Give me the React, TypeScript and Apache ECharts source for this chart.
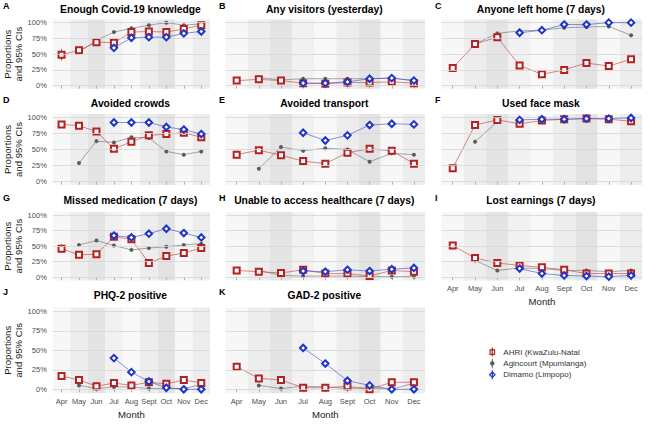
import React, { useEffect, useRef } from "react";
import * as echarts from "echarts";

// ---------- data ----------
const months = ["Apr", "May", "Jun", "Jul", "Aug", "Sept", "Oct", "Nov", "Dec"];
const yTicks = [0, 25, 50, 75, 100];
const seriesNames = ["AHRI (KwaZulu-Natal", "Agincourt (Mpumlanga)", "Dimamo (Limpopo)"];

// A Enough Covid-19 knowledge
const ahriA = [49, 56, 69, 68, 85, 86, 85, 90, 96];
const agincourtA = [null, 53, 72, 85, 91, 96, 100, 96, 98];
const dimamoA = [null, null, null, 60, 76, 77, 77, 83, 86];
const ciA = [9, 3, 3, 3, 3, 3, 3, 3, 2];
// B Any visitors (yesterday)
const ahriB = [8, 10, 8, 4, 3, 5, 5, 6, 4];
const agincourtB = [null, 13, 9, 11, 11, 11, 11, 12, 8];
const dimamoB = [null, null, null, 4, 4, 6, 11, 12, 8];
const ciB = [3, 2, 2, 2, 1, 2, 2, 2, 2];
// C Anyone left home (7 days)
const ahriC = [28, 66, 77, 32, 18, 25, 36, 31, 42];
const agincourtC = [null, 66, 83, 87, 88, 92, 93, 94, 80];
const dimamoC = [null, null, null, 84, 88, 97, 97, 100, 100];
const ciC = [6, 3, 3, 3, 3, 3, 3, 3, 5];
// D Avoided crowds
const ahriD = [89, 87, 78, 51, 62, 72, 74, 76, 69];
const agincourtD = [null, 29, 63, 61, 69, 68, 47, 42, 47];
const dimamoD = [null, null, null, 92, 92, 92, 85, 81, 74];
const ciD = [3, 2, 2, 3, 3, 3, 3, 3, 3];
// E Avoided transport
const ahriE = [42, 49, 41, 32, 28, 45, 51, 48, 28];
const agincourtE = [null, 20, 54, 48, 52, 50, 31, 44, 42];
const dimamoE = [null, null, null, 76, 64, 72, 88, 90, 89];
const ciE = [6, 3, 3, 3, 3, 3, 3, 3, 4];
// F Used face mask
const ahriF = [21, 88, 96, 90, 95, 97, 98, 97, 94];
const agincourtF = [null, 62, 93, null, null, null, null, null, null];
const dimamoF = [null, null, null, 96, 97, 97, 98, 98, 99];
const ciF = [6, 3, 2, 2, 2, 2, 1, 1, 2];
// G Missed medication (7 days)
const ahriG = [46, 36, 37, 65, 61, 23, 34, 39, 47];
const agincourtG = [null, 52, 59, 51, 44, 47, 49, 52, 54];
const dimamoG = [null, null, null, 67, 64, 70, 78, 71, 64];
const ciG = [7, 3, 3, 3, 3, 3, 3, 3, 4];
// H Unable to access healthcare (7 days)
const ahriH = [11, 9, 7, 12, 6, 6, 2, 11, 9];
const agincourtH = [null, 11, 3, 2, 2, 2, 1, 1, 1];
const dimamoH = [null, null, null, 10, 9, 12, 10, 13, 15];
const ciH = [3, 2, 2, 2, 2, 2, 1, 2, 2];
// I Lost earnings (7 days)
const ahriI = [51, 31, 23, 19, 16, 12, 6, 6, 6];
const agincourtI = [null, 27, 11, 15, 14, 11, 11, 9, 11];
const dimamoI = [null, null, null, 14, 6, 3, 2, 1, 3];
const ciI = [6, 3, 3, 3, 2, 2, 2, 2, 2];
// J PHQ-2 positive
const ahriJ = [17, 12, 4, 8, 5, 9, 7, 12, 8];
const agincourtJ = [null, 5, 1, 3, 3, 1, 1, 1, 6];
const dimamoJ = [null, null, null, 40, 22, 10, 2, 0, 0];
const ciJ = [5, 2, 2, 2, 2, 2, 2, 2, 2];
// K GAD-2 positive
const ahriK = [29, 14, 12, 2, 2, 4, 0, 9, 9];
const agincourtK = [null, 5, 1, 4, 3, 1, 2, 0, 8];
const dimamoK = [null, null, null, 53, 33, 11, 5, 0, 0];
const ciK = [5, 2, 2, 1, 1, 2, 1, 2, 2];

type Panel = {
  letter: string; title: string; row: number; col: number;
  ahri: (number | null)[]; agincourt: (number | null)[]; dimamo: (number | null)[]; ci: number[];
  xLabels: boolean;
};

const panels: Panel[] = [
  { letter: "A", title: "Enough Covid-19 knowledge", row: 0, col: 0, ahri: ahriA, agincourt: agincourtA, dimamo: dimamoA, ci: ciA, xLabels: false },
  { letter: "B", title: "Any visitors (yesterday)", row: 0, col: 1, ahri: ahriB, agincourt: agincourtB, dimamo: dimamoB, ci: ciB, xLabels: false },
  { letter: "C", title: "Anyone left home (7 days)", row: 0, col: 2, ahri: ahriC, agincourt: agincourtC, dimamo: dimamoC, ci: ciC, xLabels: false },
  { letter: "D", title: "Avoided crowds", row: 1, col: 0, ahri: ahriD, agincourt: agincourtD, dimamo: dimamoD, ci: ciD, xLabels: false },
  { letter: "E", title: "Avoided transport", row: 1, col: 1, ahri: ahriE, agincourt: agincourtE, dimamo: dimamoE, ci: ciE, xLabels: false },
  { letter: "F", title: "Used face mask", row: 1, col: 2, ahri: ahriF, agincourt: agincourtF, dimamo: dimamoF, ci: ciF, xLabels: false },
  { letter: "G", title: "Missed medication (7 days)", row: 2, col: 0, ahri: ahriG, agincourt: agincourtG, dimamo: dimamoG, ci: ciG, xLabels: false },
  { letter: "H", title: "Unable to access healthcare (7 days)", row: 2, col: 1, ahri: ahriH, agincourt: agincourtH, dimamo: dimamoH, ci: ciH, xLabels: false },
  { letter: "I", title: "Lost earnings (7 days)", row: 2, col: 2, ahri: ahriI, agincourt: agincourtI, dimamo: dimamoI, ci: ciI, xLabels: true },
  { letter: "J", title: "PHQ-2 positive", row: 3, col: 0, ahri: ahriJ, agincourt: agincourtJ, dimamo: dimamoJ, ci: ciJ, xLabels: true },
  { letter: "K", title: "GAD-2 positive", row: 3, col: 1, ahri: ahriK, agincourt: agincourtK, dimamo: dimamoK, ci: ciK, xLabels: true },
];

// ---------- layout / style ----------
const ROWS = [
  { top: 19.5, h: 69.3, titleY: 9, letterY: 6 },
  { top: 114.1, h: 70.8, titleY: 103.5, letterY: 99.5 },
  { top: 211.9, h: 68.5, titleY: 200.7, letterY: 198.3 },
  { top: 307.4, h: 85.8, titleY: 295.7, letterY: 292.3 },
];
const COLS = [
  { left: 52.8, w: 157.2, letterX: 3 },
  { left: 225.6, w: 199.4, letterX: 219 },
  { left: 441.6, w: 200.6, letterX: 435 },
];
const FONT = "'Liberation Sans', Arial, Helvetica, sans-serif";
const bandColors = ["#f7f7f7", "#ededed", "#e4e4e4", "#f1f1f1", "#f8f8f8", "#ededed", "#e3e3e3", "#f7f7f7", "#ededed"];
const RED = "#b22222";
const GRAY = "#5c5c5c";
const BLUE = "#1f35c4";

function buildOption() {
  const grid: any[] = [];
  const xAxis: any[] = [];
  const yAxis: any[] = [];
  const series: any[] = [];
  const title: any[] = [];

  panels.forEach((p, i) => {
    const R = ROWS[p.row];
    const C = COLS[p.col];
    grid.push({ left: C.left, top: R.top, width: C.w, height: R.h, containLabel: false });
    title.push({
      text: p.title, left: C.left + C.w / 2 - 1, top: R.titleY - 6.5, textAlign: "center", padding: 0,
      textStyle: { fontSize: 10.3, fontWeight: "bold", color: "#000", fontFamily: FONT, lineHeight: 13 },
    });
    title.push({
      text: p.letter, left: C.letterX, top: R.letterY - 5, padding: 0,
      textStyle: { fontSize: 9, fontWeight: "bold", color: "#000", fontFamily: FONT, lineHeight: 10 },
    });
    xAxis.push({
      type: "category", gridIndex: i, data: months, boundaryGap: true,
      axisLine: { show: false },
      axisTick: { show: true, length: 3, alignWithLabel: true, interval: 0, lineStyle: { color: "#b0b0b0" } },
      axisLabel: { show: p.xLabels, interval: 0, fontSize: 7.5, color: "#4d4d4d", margin: 4, fontFamily: FONT },
      splitLine: { show: false },
      splitArea: { show: true, interval: 0, areaStyle: { color: bandColors } },
      name: p.xLabels ? "Month" : "", nameLocation: "middle", nameGap: 16,
      nameTextStyle: { fontSize: 9.6, color: "#1a1a1a", fontFamily: FONT },
    });
    yAxis.push({
      type: "value", gridIndex: i, min: -5, max: 105, interval: 5,
      axisLine: { show: false }, axisTick: { show: false }, splitLine: { show: false },
      axisLabel: {
        show: p.col === 0, fontSize: 7.5, color: "#4d4d4d", margin: 6, fontFamily: FONT,
        formatter: (v: number) => (v >= 0 && v % 25 === 0 ? v + "%" : ""),
      },
      name: p.col === 0 ? "Proportions\nand 95% CIs" : "", nameLocation: "middle", nameRotate: 90, nameGap: 28,
      nameTextStyle: { fontSize: 9.6, lineHeight: 10.6, color: "#1a1a1a", fontFamily: FONT },
    });
    // gridlines
    series.push({
      type: "line", name: "_grid" + i, xAxisIndex: i, yAxisIndex: i, data: [], z: 1, silent: true,
      markLine: {
        silent: true, symbol: ["none", "none"], label: { show: false }, animation: false,
        lineStyle: { color: "#d6d6d6", width: 0.8, type: "solid" },
        data: yTicks.map((v) => ({ yAxis: v })),
      },
    });
    // Agincourt
    series.push({
      type: "line", name: seriesNames[1], xAxisIndex: i, yAxisIndex: i, data: p.agincourt,
      symbol: "circle", symbolSize: 4, itemStyle: { color: GRAY },
      lineStyle: { color: "rgba(110,110,110,0.6)", width: 1 }, z: 3,
    });
    // AHRI CI
    series.push({
      type: "custom", name: seriesNames[0], xAxisIndex: i, yAxisIndex: i, z: 3,
      data: p.ahri.map((v, k) => (v == null ? [k, null, null] : [k, v - p.ci[k], v + p.ci[k]])),
      encode: { x: 0, y: [1, 2] },
      renderItem: (params: any, api: any) => {
        const lo = api.value(1);
        const hi = api.value(2);
        if (lo == null || isNaN(lo)) return null;
        const a = api.coord([api.value(0), lo]);
        const b = api.coord([api.value(0), hi]);
        return { type: "line", shape: { x1: a[0], y1: a[1], x2: b[0], y2: b[1] }, style: { stroke: RED, lineWidth: 0.9 } };
      },
    });
    // AHRI
    series.push({
      type: "line", name: seriesNames[0], xAxisIndex: i, yAxisIndex: i, data: p.ahri,
      symbol: "emptyRect", symbolSize: 6, itemStyle: { color: RED, borderWidth: 1 },
      lineStyle: { color: "rgba(190,60,60,0.6)", width: 1 }, z: 4,
    });
    // Dimamo
    series.push({
      type: "line", name: seriesNames[2], xAxisIndex: i, yAxisIndex: i, data: p.dimamo,
      symbol: "emptyDiamond", symbolSize: 6.5, itemStyle: { color: BLUE, borderWidth: 1.1 },
      lineStyle: { color: "rgba(60,75,205,0.6)", width: 1 }, z: 5,
    });
  });

  return {
    animation: false,
    backgroundColor: "#fff",
    textStyle: { fontFamily: FONT },
    title,
    grid,
    xAxis,
    yAxis,
    series,
    legend: {
      left: 489, top: 347, orient: "vertical", itemWidth: 12, itemHeight: 9, itemGap: 1.2,
      selectedMode: false, padding: 0,
      textStyle: { fontSize: 8, color: "#333", fontFamily: FONT },
      data: [
        { name: seriesNames[0], icon: "path://M5,0L5,10M2.5,2.5L7.5,2.5L7.5,7.5L2.5,7.5Z", itemStyle: { color: "#fff", borderColor: RED, borderWidth: 1.2 } },
        { name: seriesNames[1], icon: "path://M5,0L5,10M3,5A2,2,0,1,0,7,5A2,2,0,1,0,3,5Z", itemStyle: { color: GRAY, borderColor: GRAY, borderWidth: 1 } },
        { name: seriesNames[2], icon: "path://M5,0L5,10M5,2L8,5L5,8L2,5Z", itemStyle: { color: "#fff", borderColor: BLUE, borderWidth: 1.2 } },
      ],
    },
  };
}

export default function App() {
  const ref = useRef<HTMLDivElement>(null);
  useEffect(() => {
    if (!ref.current) return;
    const chart = echarts.init(ref.current, null, { renderer: "svg" });
    chart.setOption(buildOption() as any);
    return () => chart.dispose();
  }, []);
  return (
    <div
      ref={ref}
      style={{ position: "fixed", left: 0, top: 0, width: 648, height: 432, background: "#fff" }}
    />
  );
}
